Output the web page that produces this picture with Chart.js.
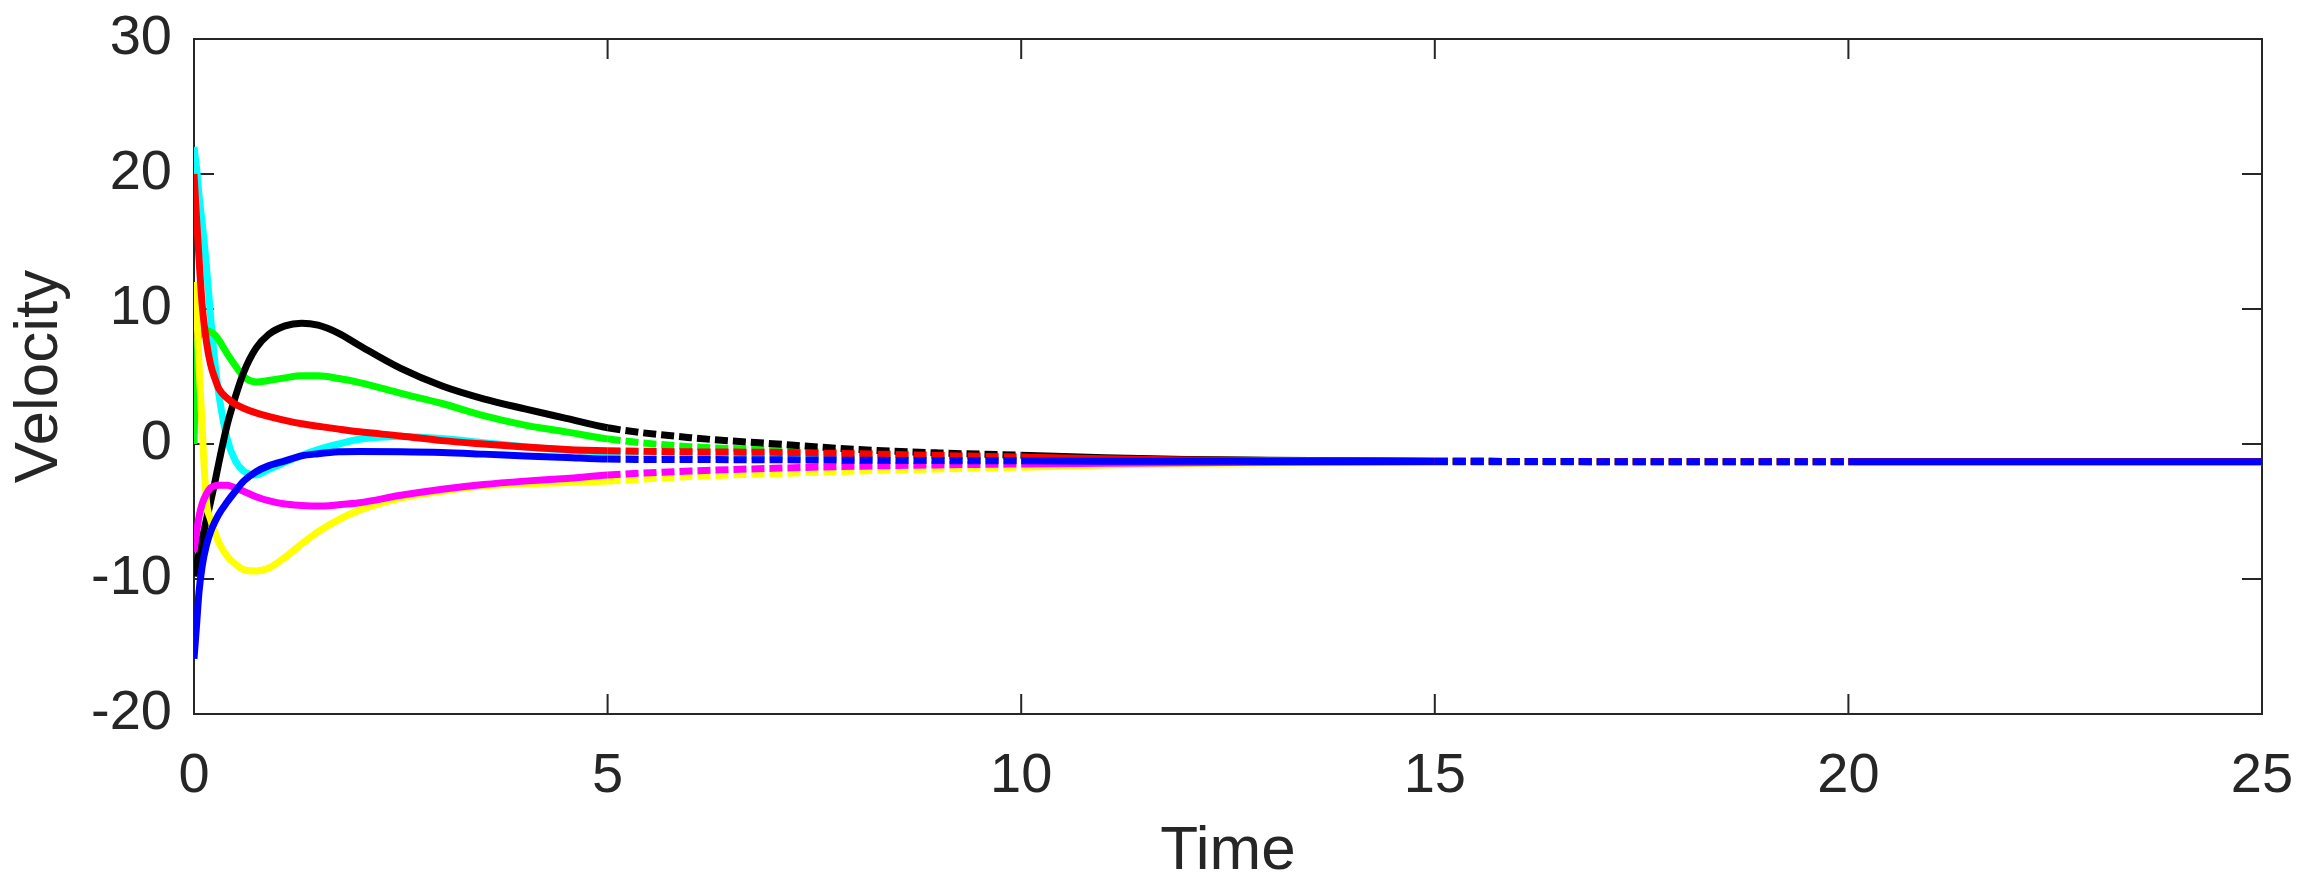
<!DOCTYPE html>
<html>
<head>
<meta charset="utf-8">
<title>Velocity</title>
<script src="https://cdn.jsdelivr.net/npm/chart.js@4.4.1/dist/chart.umd.min.js"></script>
<style>
  html, body { margin: 0; padding: 0; background: #fff; }
  #wrap { width: 2306px; height: 890px; }
</style>
</head>
<body>
<div id="wrap"><canvas id="chart" width="2306" height="890"></canvas></div>
<script>
// time samples (s) shared by all agents
const tempo = [0, 0.03, 0.06, 0.1, 0.15, 0.2, 0.25, 0.3, 0.4, 0.5, 0.6, 0.75, 0.9, 1.1, 1.3, 1.5, 1.75, 2, 2.5, 3, 3.5, 4, 4.5, 5, 6, 7, 8, 9, 10, 11, 12, 13, 15, 20, 25];

const velPreto   = [-9.8, -9.0, -8.1, -7.0, -5.6, -4.3, -2.9, -1.4, 1.4, 3.5, 5.3, 7.1, 8.1, 8.75, 8.95, 8.8, 8.2, 7.3, 5.6, 4.3, 3.35, 2.6, 1.9, 1.2, 0.47, 0.02, -0.4, -0.66, -0.83, -1.02, -1.14, -1.21, -1.28, -1.3, -1.3];
const velVerde   = [0, 7.0, 8.0, 8.3, 8.4, 8.3, 8.1, 7.7, 6.7, 5.8, 5.0, 4.6, 4.7, 4.9, 5.05, 5.05, 4.85, 4.55, 3.75, 3.0, 2.1, 1.4, 0.9, 0.38, -0.2, -0.42, -0.62, -0.8, -0.93, -1.08, -1.17, -1.23, -1.28, -1.3, -1.3];
const velVermelho = [20, 16.8, 13.8, 10.2, 7.6, 5.9, 4.9, 4.1, 3.4, 2.95, 2.65, 2.3, 2.05, 1.75, 1.5, 1.32, 1.1, 0.9, 0.6, 0.25, 0.0, -0.22, -0.4, -0.5, -0.58, -0.62, -0.72, -0.85, -0.97, -1.1, -1.18, -1.23, -1.28, -1.3, -1.3];
const velCiano   = [22, 20.5, 18.5, 16.3, 13.2, 9.5, 6.2, 3.7, 0.4, -1.25, -2.0, -2.3, -1.9, -1.35, -0.85, -0.42, 0.0, 0.35, 0.55, 0.4, 0.1, -0.2, -0.45, -0.6, -0.8, -0.95, -1.05, -1.12, -1.18, -1.22, -1.25, -1.27, -1.29, -1.3, -1.3];
const velAzul    = [-15.9, -13.5, -11.0, -9.0, -7.5, -6.5, -5.8, -5.2, -4.3, -3.5, -2.75, -2.05, -1.62, -1.25, -0.88, -0.72, -0.58, -0.55, -0.57, -0.63, -0.75, -0.88, -1.0, -1.12, -1.15, -1.17, -1.2, -1.23, -1.25, -1.27, -1.28, -1.29, -1.3, -1.31, -1.31];
const velMagenta = [-8.0, -6.6, -5.4, -4.4, -3.7, -3.25, -3.1, -3.05, -3.05, -3.25, -3.5, -3.9, -4.2, -4.45, -4.55, -4.6, -4.5, -4.35, -3.8, -3.35, -3.0, -2.75, -2.55, -2.3, -2.0, -1.8, -1.65, -1.55, -1.48, -1.42, -1.38, -1.35, -1.32, -1.31, -1.31];
const velAmarelo = [12.0, 10.0, 6.0, 1.0, -4.2, -5.6, -6.5, -7.3, -8.3, -8.9, -9.3, -9.4, -9.2, -8.4, -7.4, -6.5, -5.6, -4.9, -4.0, -3.5, -3.1, -2.95, -2.85, -2.75, -2.4, -2.2, -2.0, -1.85, -1.72, -1.55, -1.45, -1.4, -1.34, -1.32, -1.32];

const ticksX = [0, 5, 10, 15, 20, 25];
const ticksY = [-20, -10, 0, 10, 20, 30];

const corTexto = '#262626';
const fonte = '"Liberation Sans", Arial, Helvetica, sans-serif';

// trechos tracejados: 5-10 s e 15-20 s
function tracejado(ctx) {
  const x = ctx.p0.parsed.x;
  if ((x >= 5 && x < 10) || (x >= 15 && x < 20)) return [13, 5];
  return undefined;
}

function criarSerie(valores, cor) {
  return {
    data: tempo.map((t, i) => ({ x: t, y: valores[i] })),
    borderColor: cor,
    backgroundColor: cor,
    borderWidth: 7,
    pointRadius: 0,
    fill: false,
    cubicInterpolationMode: 'monotone',
    borderCapStyle: 'butt',
    segment: { borderDash: tracejado },
  };
}

function desenharTicks(ctx, a, scales, len) {
  ticksX.forEach((v) => {
    const px = scales.x.getPixelForValue(v);
    ctx.moveTo(px, a.bottom);
    ctx.lineTo(px, a.bottom - len);
    ctx.moveTo(px, a.top);
    ctx.lineTo(px, a.top + len);
  });
  ticksY.forEach((v) => {
    const py = scales.y.getPixelForValue(v);
    ctx.moveTo(a.left, py);
    ctx.lineTo(a.left + len, py);
    ctx.moveTo(a.right, py);
    ctx.lineTo(a.right - len, py);
  });
}

// moldura e marcas para dentro, estilo matlab
const moldura = {
  id: 'moldura',
  beforeDatasetsDraw(chart) {
    const { ctx, chartArea: a, scales } = chart;
    ctx.save();
    ctx.strokeStyle = corTexto;
    ctx.lineWidth = 2;
    ctx.beginPath();
    desenharTicks(ctx, a, scales, 20);
    ctx.stroke();
    ctx.strokeRect(a.left, a.top, a.right - a.left, a.bottom - a.top);
    ctx.restore();
  },
};

new Chart(document.getElementById('chart'), {
  type: 'line',
  data: {
    // primeira serie fica por cima
    datasets: [
      criarSerie(velAzul, '#0000ff'),
      criarSerie(velVermelho, '#ff0000'),
      criarSerie(velMagenta, '#ff00ff'),
      criarSerie(velAmarelo, '#ffff00'),
      criarSerie(velPreto, '#000000'),
      criarSerie(velVerde, '#00ff00'),
      criarSerie(velCiano, '#00ffff'),
    ],
  },
  options: {
    responsive: false,
    animation: false,
    devicePixelRatio: 1,
    layout: { padding: { top: 39, right: 44, left: 0, bottom: 0 } },
    plugins: {
      legend: { display: false },
      tooltip: { enabled: false },
    },
    scales: {
      x: {
        type: 'linear',
        min: 0,
        max: 25,
        grid: { display: false, drawTicks: false },
        border: { display: false },
        ticks: {
          stepSize: 5,
          padding: 29,
          color: corTexto,
          font: { family: fonte, size: 56 },
          maxRotation: 0,
        },
        title: {
          display: true,
          text: 'Time',
          color: corTexto,
          font: { family: fonte, size: 62 },
          padding: { top: 0, bottom: 1 },
        },
        afterFit(scale) {
          scale.height = 176;
          scale.paddingLeft = 0;
          scale.paddingRight = 0;
        },
      },
      y: {
        type: 'linear',
        min: -20,
        max: 30,
        grid: { display: false, drawTicks: false },
        border: { display: false },
        ticks: {
          stepSize: 10,
          padding: 22,
          color: corTexto,
          font: { family: fonte, size: 56 },
        },
        title: {
          display: true,
          text: 'Velocity',
          color: corTexto,
          font: { family: fonte, size: 62 },
          padding: { top: 3, bottom: 0 },
        },
        afterFit(scale) {
          scale.width = 194;
          scale.paddingTop = 0;
          scale.paddingBottom = 0;
        },
      },
    },
  },
  plugins: [moldura],
});
</script>
</body>
</html>
